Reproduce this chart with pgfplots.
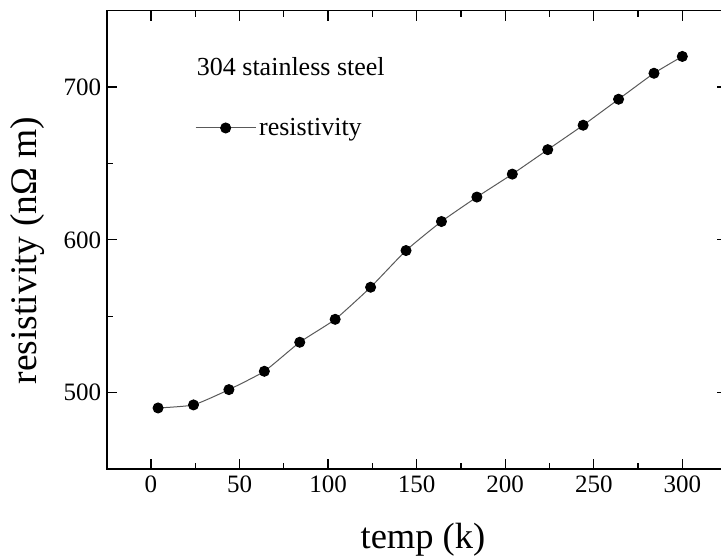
\documentclass[border=0pt]{standalone}
\usepackage{fontspec}
\setmainfont{Liberation Serif}
\usepackage{pgfplots}
\pgfplotsset{compat=1.18}
\begin{document}
\begin{tikzpicture}
\begin{axis}[
  scale only axis,
  width=619.9pt, height=458.5pt,
  xmin=-25, xmax=325, ymin=450, ymax=750,
  xtick={0,50,...,300}, minor x tick num=1,
  ytick={500,600,700}, minor y tick num=1,
  tick align=inside,
  major tick length=10pt, minor tick length=6pt,
  every tick/.style={black, line width=1.3pt},
  axis line style={black, line width=1.6pt},
  /pgf/number format/assume math mode=true,
  tick label style={font=\fontsize{25}{30}\selectfont},
  xticklabel style={yshift=-3pt},
  yticklabel style={xshift=-2pt},
  xlabel={temp (k)},
  ylabel={resistivity (n\symbol{"03A9} m)},
  xlabel style={font=\fontsize{36.5}{42}\selectfont, at={(axis description cs:0.5102,-0.173)}, anchor=base},
  ylabel style={font=\fontsize{37.5}{42}\selectfont, at={(axis description cs:-0.127,0.4768)}, anchor=center, rotate=0},
  legend style={at={(rel axis cs:0.1424,0.744)}, anchor=west, draw=none, fill=none, inner sep=0pt,
    font=\fontsize{26}{30}\selectfont, nodes={inner sep=3pt}},
  legend cell align=left,
  legend image code/.code={
    \draw[#1,mark=none] (0pt,0pt) -- (60pt,0pt);
    \draw[#1,only marks] plot coordinates {(30pt,0pt)};
  },
]
\addplot[color=black!65, line width=1pt, smooth, tension=0.3,
  mark=*, mark size=5pt, mark options={fill=black, draw=black, solid}]
  coordinates {
  (4,490) (24,492) (44,502) (64,514) (84,533) (104,548) (124,569) (144,593)
  (164,612) (184,628) (204,643) (224,659) (244,675) (264,692) (284,709) (300,720)
  };
\addlegendentry{resistivity}
\node[anchor=base west, inner sep=0pt, font=\fontsize{26}{30}\selectfont] at (rel axis cs:0.1452,0.8574) {304 stainless steel};
\end{axis}
\pgfresetboundingbox
\path ([shift={(-106.7pt,-86.9pt)}]current axis.south west) rectangle ([shift={(-5.6pt,10.6pt)}]current axis.north east);
\end{tikzpicture}
\end{document}
